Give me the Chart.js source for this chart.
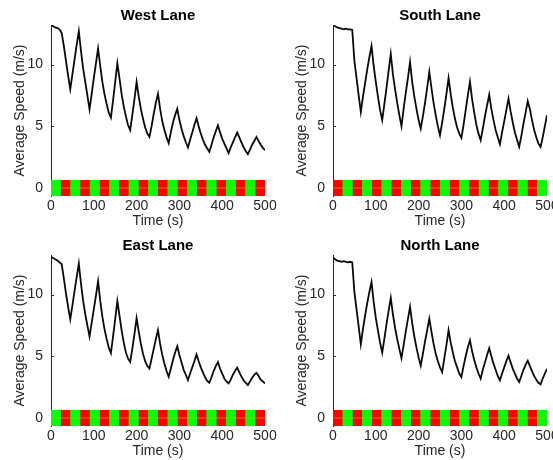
<!DOCTYPE html>
<html>
<head>
<meta charset="utf-8">
<title>Average Speed by Lane</title>
<script src="https://cdn.jsdelivr.net/npm/chart.js@4.4.1/dist/chart.umd.min.js"></script>
<style>
  html, body { margin: 0; padding: 0; background: #fff; width: 553px; height: 460px; overflow: hidden; }
  .panel { position: absolute; width: 282px; height: 230px; }
  .panel canvas { display: block; }
</style>
</head>
<body>
<div class="panel" style="left:0;top:0"><canvas id="west" width="282" height="230"></canvas></div>
<div class="panel" style="left:282px;top:0"><canvas id="south" width="282" height="230"></canvas></div>
<div class="panel" style="left:0;top:230px"><canvas id="east" width="282" height="230"></canvas></div>
<div class="panel" style="left:282px;top:230px"><canvas id="north" width="282" height="230"></canvas></div>
<script>
// Sample times (s)
const timeSec = [
  0, 5, 10, 15, 20, 25, 30, 35, 40, 45,
  50, 55, 60, 65, 70, 75, 80, 85, 90, 95,
  100, 105, 110, 115, 120, 125, 130, 135, 140, 145,
  150, 155, 160, 165, 170, 175, 180, 185, 190, 195,
  200, 205, 210, 215, 220, 225, 230, 235, 240, 245,
  250, 255, 260, 265, 270, 275, 280, 285, 290, 295,
  300, 305, 310, 315, 320, 325, 330, 335, 340, 345,
  350, 355, 360, 365, 370, 375, 380, 385, 390, 395,
  400, 405, 410, 415, 420, 425, 430, 435, 440, 445,
  450, 455, 460, 465, 470, 475, 480, 485, 490, 495,
  500
];

// Average speed per approach (m/s)
const westSpeed = [
  13.2, 13.1, 13.0, 12.95, 12.85, 12.55, 11.5, 10.3, 9.1, 8.0,
  9.2, 10.4, 11.6, 12.7, 11.1, 9.7, 8.6, 7.5, 6.37, 7.6,
  8.9, 10.1, 11.3, 9.9, 8.6, 7.6, 6.8, 6.1, 5.7, 7.1,
  8.6, 10.1, 8.9, 7.6, 6.6, 5.8, 5.1, 4.68, 5.9, 7.2,
  8.58, 7.4, 6.4, 5.6, 4.9, 4.4, 4.14, 5.0, 6.0, 6.9,
  7.63, 6.4, 5.4, 4.7, 4.1, 3.63, 4.5, 5.3, 5.9, 6.42,
  5.5, 4.8, 4.2, 3.7, 3.28, 3.9, 4.5, 5.1, 5.65, 5.0,
  4.4, 3.9, 3.5, 3.2, 2.93, 3.5, 4.1, 4.6, 5.08, 4.5,
  4.0, 3.6, 3.2, 2.82, 3.3, 3.7, 4.1, 4.49, 4.1, 3.7,
  3.3, 3.0, 2.74, 3.1, 3.5, 3.8, 4.14, 3.8, 3.5, 3.25,
  3.06
];
const southSpeed = [
  13.15, 13.1, 13.0, 12.95, 12.9, 12.85, 12.9, 12.85, 12.85, 12.8,
  10.3, 8.9, 7.5, 6.15, 7.4, 8.5, 9.6, 10.6, 11.5, 9.9,
  8.6, 7.4, 6.3, 5.5, 6.8, 8.1, 9.5, 10.85, 9.2, 8.0,
  6.9, 5.9, 5.0, 6.4, 7.7, 8.9, 10.2, 8.6, 7.4, 6.4,
  5.5, 4.8, 5.8, 6.9, 8.1, 9.4, 8.1, 6.9, 5.9, 5.0,
  4.27, 5.3, 6.4, 7.6, 8.9, 7.6, 6.5, 5.6, 4.9, 4.4,
  4.06, 5.1, 6.3, 7.5, 8.6, 7.2, 6.1, 5.1, 4.4, 3.87,
  4.8, 5.8, 6.7, 7.55, 6.4, 5.5, 4.7, 4.1, 3.55, 4.5,
  5.4, 6.3, 7.23, 6.2, 5.3, 4.5, 3.9, 3.33, 4.2, 5.2,
  6.1, 7.04, 6.4, 5.5, 4.7, 4.1, 3.6, 3.33, 4.1, 5.0,
  5.9
];
const eastSpeed = [
  13.05, 12.95, 12.85, 12.75, 12.6, 12.45, 11.3, 10.1, 9.0, 8.0,
  9.1, 10.3, 11.4, 12.5, 10.9, 9.5, 8.4, 7.5, 6.6, 7.7,
  8.8, 9.9, 11.07, 9.5, 8.2, 7.2, 6.4, 5.7, 5.25, 6.6,
  8.0, 9.47, 8.3, 7.1, 6.1, 5.3, 4.8, 4.53, 5.6, 6.8,
  8.08, 7.0, 6.0, 5.2, 4.6, 4.2, 4.0, 4.8, 5.6, 6.4,
  7.12, 6.0, 5.1, 4.4, 3.8, 3.33, 4.0, 4.7, 5.3, 5.81,
  5.1, 4.5, 3.9, 3.5, 3.07, 3.6, 4.1, 4.6, 5.15, 4.6,
  4.1, 3.7, 3.3, 3.0, 2.85, 3.3, 3.8, 4.2, 4.53, 4.0,
  3.6, 3.2, 2.95, 2.8, 3.1, 3.5, 3.8, 4.08, 3.7, 3.35,
  3.05, 2.85, 2.67, 2.95, 3.25, 3.5, 3.65, 3.4, 3.1, 2.95,
  2.8
];
const northSpeed = [
  13.0, 12.85, 12.75, 12.7, 12.65, 12.7, 12.65, 12.6, 12.65, 12.6,
  10.2, 8.8, 7.4, 5.97, 7.2, 8.3, 9.3, 10.2, 11.0, 9.4,
  8.1, 7.1, 6.1, 5.3, 6.4, 7.6, 8.7, 9.73, 8.4, 7.3,
  6.4, 5.6, 4.85, 5.9, 7.0, 8.0, 9.0, 7.7, 6.6, 5.7,
  4.9, 4.24, 5.2, 6.2, 7.1, 8.04, 7.0, 6.0, 5.2, 4.6,
  4.1, 3.71, 4.8, 5.9, 7.1, 6.1, 5.3, 4.6, 4.1, 3.6,
  3.32, 4.2, 5.0, 5.7, 6.29, 5.4, 4.7, 4.1, 3.6, 3.18,
  3.9, 4.5, 5.1, 5.65, 5.0, 4.4, 3.9, 3.4, 3.05, 3.6,
  4.1, 4.6, 5.04, 4.5, 4.0, 3.6, 3.2, 2.92, 3.4, 3.9,
  4.3, 4.64, 4.2, 3.8, 3.4, 3.1, 2.85, 2.73, 3.2, 3.6,
  3.98
];

// Signal phase boundaries (s) and the phase shown in each interval
const signalEdges = [
  0, 22.7, 45.5, 68.2, 90.9, 113.6, 136.4, 159.1, 181.8, 204.5, 227.3, 250,
  272.7, 295.5, 318.2, 340.9, 363.6, 386.4, 409.1, 431.8, 454.5, 477.3, 500
];
const westEastPhases = [
  'green', 'red', 'green', 'red', 'green', 'red', 'green', 'red', 'green', 'red', 'green',
  'red', 'green', 'red', 'green', 'red', 'green', 'red', 'green', 'red', 'green', 'red'
];
const southNorthPhases = [
  'red', 'green', 'red', 'green', 'red', 'green', 'red', 'green', 'red', 'green', 'red',
  'green', 'red', 'green', 'red', 'green', 'red', 'green', 'red', 'green', 'red', 'green'
];

// Axis ticks and titles
const yTickValues = [0, 5, 10];
const xTickValues = [0, 100, 200, 300, 400, 500];
const yAxisTitle = 'Average Speed (m/s)';
const xAxisTitle = 'Time (s)';

const FONT = '"Liberation Sans", Arial, Helvetica, sans-serif';
const AXIS_COLOR = '#262626';
const PHASE_COLORS = { green: '#00ff00', red: '#ff0000' };
const BAND = 0.65;      // half-height of the signal strip around y = 0
const Y_MIN = -0.65, Y_MAX = 13.2;

// short inward tick marks on the left axis, drawn under the data
const innerTicks = {
  id: 'innerTicks',
  beforeDatasetsDraw(chart) {
    const { ctx, chartArea, scales: { y } } = chart;
    ctx.save();
    ctx.strokeStyle = AXIS_COLOR;
    ctx.lineWidth = 1;
    y.ticks.forEach(t => {
      const py = Math.round(y.getPixelForValue(t.value)) + 0.5;
      ctx.beginPath();
      ctx.moveTo(chartArea.left, py);
      ctx.lineTo(chartArea.left + 3, py);
      ctx.stroke();
    });
    ctx.restore();
  }
};

function stripBlock(x0, x1, color, order) {
  return {
    type: 'line',
    data: [{ x: x0, y: BAND }, { x: x1, y: BAND }],
    fill: { value: -BAND },
    backgroundColor: color,
    borderWidth: 0,
    pointRadius: 0,
    order
  };
}

function makePanel(id, title, speeds, phases) {
  const datasets = [];
  // green phases: the whole strip is laid in green first ...
  const first = signalEdges[0], last = signalEdges[signalEdges.length - 1];
  datasets.push(stripBlock(first, last, PHASE_COLORS.green, 4));
  // ... then each red phase is painted over it
  phases.forEach((p, i) => {
    if (p === 'red') datasets.push(stripBlock(signalEdges[i], signalEdges[i + 1], PHASE_COLORS.red, 3));
  });
  datasets.push({
    type: 'line',
    data: [{ x: first, y: 0 }, { x: last, y: 0 }],
    borderColor: 'rgba(200,180,40,0.6)',
    borderWidth: 1,
    pointRadius: 0,
    fill: false,
    order: 2
  });
  datasets.push({
    type: 'line',
    data: timeSec.map((t, i) => ({ x: t, y: speeds[i] })),
    borderColor: '#0a0a0a',
    borderWidth: 1.8,
    pointRadius: 0,
    tension: 0,
    fill: false,
    order: 1
  });

  new Chart(document.getElementById(id), {
    type: 'line',
    data: { datasets },
    options: {
      responsive: false,
      animation: false,
      events: [],
      layout: { padding: { left: 0, right: 17, top: 0, bottom: 0 } },
      plugins: {
        legend: { display: false },
        tooltip: { enabled: false },
        title: {
          display: true,
          text: title,
          fullSize: false,
          color: '#000',
          font: { family: FONT, size: 15, weight: 'bold', lineHeight: 1.2 },
          padding: { top: 7, bottom: 0 }
        }
      },
      scales: {
        x: {
          type: 'linear',
          min: 0,
          max: 500,
          offset: false,
          afterBuildTicks: s => { s.ticks = xTickValues.map(v => ({ value: v })); },
          afterFit: s => { s.height = 34; },
          grid: { display: false, drawTicks: false },
          border: { display: false },
          ticks: {
            color: AXIS_COLOR,
            padding: 2,
            maxRotation: 0,
            font: { family: FONT, size: 14 }
          },
          title: {
            display: true,
            text: xAxisTitle,
            color: AXIS_COLOR,
            font: { family: FONT, size: 14, lineHeight: 1.2 },
            padding: { top: 0, bottom: 0 }
          }
        },
        y: {
          type: 'linear',
          min: Y_MIN,
          max: Y_MAX,
          afterBuildTicks: s => { s.ticks = yTickValues.map(v => ({ value: v })); },
          afterFit: s => { s.width = 51; },
          grid: { display: false, drawTicks: false },
          border: { display: true, color: AXIS_COLOR, width: 1 },
          ticks: {
            color: AXIS_COLOR,
            padding: 8,
            font: { family: FONT, size: 14 }
          },
          title: {
            display: true,
            text: yAxisTitle,
            color: AXIS_COLOR,
            font: { family: FONT, size: 14, lineHeight: 1.2 },
            padding: { top: 12, bottom: 0 }
          }
        }
      }
    },
    plugins: [innerTicks]
  });
}

makePanel('west', 'West Lane', westSpeed, westEastPhases);
makePanel('south', 'South Lane', southSpeed, southNorthPhases);
makePanel('east', 'East Lane', eastSpeed, westEastPhases);
makePanel('north', 'North Lane', northSpeed, southNorthPhases);
</script>
</body>
</html>
